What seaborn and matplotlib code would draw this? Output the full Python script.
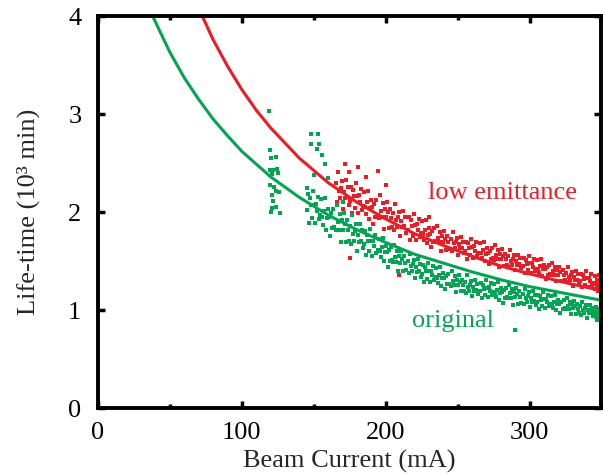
import pandas as pd
import seaborn as sns
import matplotlib.pyplot as plt
from matplotlib.ticker import MultipleLocator

# fitted life-time curves
green_curve_x = [38, 50, 60, 70, 80, 90, 100, 120, 140, 160, 180, 200, 220, 240, 260, 280, 300, 325, 350]
green_curve_y = [4.00, 3.63, 3.37, 3.15, 2.95, 2.78, 2.62, 2.36, 2.15, 1.97, 1.82, 1.69, 1.57, 1.48, 1.39, 1.31, 1.24, 1.17, 1.10]
red_curve_x = [72.5, 80, 90, 100, 110, 120, 140, 160, 180, 200, 220, 240, 260, 280, 300, 325, 350]
red_curve_y = [4.00, 3.76, 3.49, 3.25, 3.04, 2.86, 2.55, 2.30, 2.10, 1.93, 1.78, 1.66, 1.55, 1.45, 1.37, 1.28, 1.20]

# measured points, low emittance optics
red_points = [
    (165.2, 2.30), (165.9, 2.10), (166.6, 2.41), (167.3, 2.22), (168.0, 2.14), (168.7, 2.25), (169.4, 2.32),
    (170.1, 2.03), (170.8, 2.21), (171.5, 2.14), (172.2, 2.33), (172.9, 2.15), (173.6, 2.26), (174.3, 2.07),
    (175.2, 2.11), (175.9, 2.26), (176.6, 1.99), (177.3, 2.23), (178.0, 2.16), (178.7, 2.04), (179.4, 2.30),
    (180.1, 2.16), (180.8, 1.99), (181.5, 2.17), (182.2, 2.10), (182.9, 2.24), (183.6, 2.02), (184.3, 2.06),
    (185.2, 2.21), (185.9, 2.05), (186.6, 1.98), (187.3, 2.10), (188.0, 2.22), (188.7, 1.93), (189.4, 2.04),
    (190.1, 2.12), (190.8, 2.05), (191.5, 1.88), (192.2, 2.08), (192.9, 1.95), (193.6, 2.12), (194.3, 1.97),
    (195.2, 1.94), (195.9, 2.17), (196.6, 2.01), (197.3, 1.95), (198.0, 2.09), (198.7, 1.83), (199.4, 2.03),
    (200.1, 1.95), (200.8, 2.10), (201.5, 2.00), (202.2, 1.84), (202.9, 2.03), (203.6, 1.94), (204.3, 1.85),
    (205.2, 1.99), (205.9, 1.82), (206.6, 2.08), (207.3, 1.92), (208.0, 1.85), (208.7, 1.95), (209.4, 2.00),
    (210.1, 1.76), (210.8, 1.91), (211.5, 1.85), (212.2, 2.01), (212.9, 1.86), (213.6, 1.95), (214.3, 1.79),
    (215.2, 1.82), (215.9, 1.95), (216.6, 1.72), (217.3, 1.92), (218.0, 1.86), (218.7, 1.76), (219.4, 1.98),
    (220.1, 1.87), (220.8, 1.72), (221.5, 1.88), (222.2, 1.82), (222.9, 1.93), (223.6, 1.75), (224.3, 1.79),
    (225.2, 1.91), (225.9, 1.78), (226.6, 1.72), (227.3, 1.82), (228.0, 1.92), (228.7, 1.68), (229.4, 1.77),
    (230.1, 1.84), (230.8, 1.78), (231.5, 1.64), (232.2, 1.81), (232.9, 1.70), (233.6, 1.84), (234.3, 1.71),
    (235.2, 1.69), (235.9, 1.86), (236.6, 1.74), (237.3, 1.69), (238.0, 1.80), (238.7, 1.60), (239.4, 1.76),
    (240.1, 1.69), (240.8, 1.81), (241.5, 1.73), (242.2, 1.61), (242.9, 1.76), (243.6, 1.69), (244.3, 1.62),
    (245.2, 1.73), (245.9, 1.60), (246.6, 1.80), (247.3, 1.68), (248.0, 1.63), (248.7, 1.70), (249.4, 1.74),
    (250.1, 1.56), (250.8, 1.67), (251.5, 1.63), (252.2, 1.75), (252.9, 1.63), (253.6, 1.70), (254.3, 1.58),
    (255.2, 1.60), (255.9, 1.70), (256.6, 1.52), (257.3, 1.68), (258.0, 1.63), (258.7, 1.56), (259.4, 1.73),
    (260.1, 1.64), (260.8, 1.53), (261.5, 1.65), (262.2, 1.60), (262.9, 1.70), (263.6, 1.55), (264.3, 1.58),
    (265.2, 1.68), (265.9, 1.58), (266.6, 1.53), (267.3, 1.61), (268.0, 1.69), (268.7, 1.50), (269.4, 1.57),
    (270.1, 1.63), (270.8, 1.58), (271.5, 1.47), (272.2, 1.60), (272.9, 1.52), (273.6, 1.63), (274.3, 1.53),
    (275.2, 1.51), (275.9, 1.66), (276.6, 1.56), (277.3, 1.52), (278.0, 1.61), (278.7, 1.44), (279.4, 1.57),
    (280.1, 1.52), (280.8, 1.62), (281.5, 1.55), (282.2, 1.45), (282.9, 1.57), (283.6, 1.52), (284.3, 1.46),
    (285.2, 1.55), (285.9, 1.44), (286.6, 1.61), (287.3, 1.50), (288.0, 1.46), (288.7, 1.52), (289.4, 1.56),
    (290.1, 1.41), (290.8, 1.50), (291.5, 1.46), (292.2, 1.56), (292.9, 1.47), (293.6, 1.53), (294.3, 1.43),
    (295.2, 1.45), (295.9, 1.53), (296.6, 1.38), (297.3, 1.51), (298.0, 1.47), (298.7, 1.41), (299.4, 1.55),
    (300.1, 1.48), (300.8, 1.38), (301.5, 1.48), (302.2, 1.44), (302.9, 1.52), (303.6, 1.40), (304.3, 1.42),
    (305.2, 1.51), (305.9, 1.42), (306.6, 1.38), (307.3, 1.45), (308.0, 1.52), (308.7, 1.35), (309.4, 1.42),
    (310.1, 1.46), (310.8, 1.42), (311.5, 1.32), (312.2, 1.44), (312.9, 1.36), (313.6, 1.46), (314.3, 1.37),
    (315.2, 1.36), (315.9, 1.48), (316.6, 1.40), (317.3, 1.36), (318.0, 1.44), (318.7, 1.30), (319.4, 1.41),
    (320.1, 1.36), (320.8, 1.44), (321.5, 1.39), (322.2, 1.30), (322.9, 1.41), (323.6, 1.36), (324.3, 1.31),
    (325.2, 1.38), (325.9, 1.29), (326.6, 1.44), (327.3, 1.34), (328.0, 1.31), (328.7, 1.36), (329.4, 1.39),
    (330.1, 1.25), (330.8, 1.34), (331.5, 1.31), (332.2, 1.40), (332.9, 1.31), (333.6, 1.37), (334.3, 1.27),
    (335.2, 1.30), (335.9, 1.37), (336.6, 1.24), (337.3, 1.36), (338.0, 1.32), (338.7, 1.26), (339.4, 1.40),
    (340.1, 1.33), (340.8, 1.24), (341.5, 1.33), (342.2, 1.30), (342.9, 1.37), (343.6, 1.26), (344.3, 1.28),
    (345.2, 1.35), (345.9, 1.27), (346.6, 1.23), (347.3, 1.29), (348.0, 1.36), (348.7, 1.21), (349.4, 1.27),
    (345.6, 1.22), (346.9, 1.31), (348.3, 1.25), (349.7, 1.20), (347.8, 1.19),
    (172.0, 2.49), (174.3, 2.41), (181.0, 2.46), (194.5, 2.42), (186.0, 2.36), (200.0, 2.28),
    (230.0, 1.95), (175.4, 1.53), (209.0, 1.36),
]

# measured points, original optics
green_points = [
    (145.2, 2.02), (145.9, 2.18), (146.6, 1.89), (147.3, 2.14), (148.0, 2.07), (148.7, 1.94), (149.4, 2.22),
    (150.1, 2.07), (150.8, 1.89), (151.5, 2.08), (152.2, 2.01), (152.9, 2.15), (153.6, 1.93), (154.3, 1.97),
    (155.2, 2.13), (155.9, 1.95), (156.6, 1.87), (157.3, 2.01), (158.0, 2.14), (158.7, 1.82), (159.4, 1.94),
    (160.1, 2.03), (160.8, 1.95), (161.5, 1.76), (162.2, 1.99), (162.9, 1.84), (163.6, 2.03), (164.3, 1.85),
    (165.2, 1.82), (165.9, 2.07), (166.6, 1.90), (167.3, 1.82), (168.0, 1.98), (168.7, 1.69), (169.4, 1.92),
    (170.1, 1.82), (170.8, 1.99), (171.5, 1.88), (172.2, 1.70), (172.9, 1.92), (173.6, 1.82), (174.3, 1.71),
    (175.2, 1.86), (175.9, 1.67), (176.6, 1.97), (177.3, 1.78), (178.0, 1.71), (178.7, 1.81), (179.4, 1.88),
    (180.1, 1.60), (180.8, 1.77), (181.5, 1.70), (182.2, 1.88), (182.9, 1.71), (183.6, 1.82), (184.3, 1.63),
    (185.2, 1.67), (185.9, 1.81), (186.6, 1.56), (187.3, 1.77), (188.0, 1.71), (188.7, 1.60), (189.4, 1.83),
    (190.1, 1.71), (190.8, 1.55), (191.5, 1.71), (192.2, 1.65), (192.9, 1.77), (193.6, 1.58), (194.3, 1.61),
    (195.2, 1.73), (195.9, 1.60), (196.6, 1.54), (197.3, 1.64), (198.0, 1.74), (198.7, 1.50), (199.4, 1.59),
    (200.1, 1.65), (200.8, 1.59), (201.5, 1.44), (202.2, 1.61), (202.9, 1.50), (203.6, 1.64), (204.3, 1.51),
    (205.2, 1.49), (205.9, 1.66), (206.6, 1.54), (207.3, 1.49), (208.0, 1.60), (208.7, 1.40), (209.4, 1.55),
    (210.1, 1.48), (210.8, 1.60), (211.5, 1.52), (212.2, 1.40), (212.9, 1.55), (213.6, 1.48), (214.3, 1.41),
    (215.2, 1.50), (215.9, 1.38), (216.6, 1.57), (217.3, 1.45), (218.0, 1.40), (218.7, 1.47), (219.4, 1.51),
    (220.1, 1.33), (220.8, 1.44), (221.5, 1.39), (222.2, 1.52), (222.9, 1.40), (223.6, 1.47), (224.3, 1.34),
    (225.2, 1.37), (225.9, 1.46), (226.6, 1.29), (227.3, 1.44), (228.0, 1.40), (228.7, 1.32), (229.4, 1.48),
    (230.1, 1.40), (230.8, 1.29), (231.5, 1.40), (232.2, 1.36), (232.9, 1.45), (233.6, 1.31), (234.3, 1.34),
    (235.2, 1.43), (235.9, 1.33), (236.6, 1.28), (237.3, 1.36), (238.0, 1.44), (238.7, 1.25), (239.4, 1.33),
    (240.1, 1.38), (240.8, 1.33), (241.5, 1.22), (242.2, 1.35), (242.9, 1.27), (243.6, 1.37), (244.3, 1.27),
    (245.2, 1.25), (245.9, 1.40), (246.6, 1.30), (247.3, 1.26), (248.0, 1.35), (248.7, 1.18), (249.4, 1.31),
    (250.1, 1.26), (250.8, 1.36), (251.5, 1.29), (252.2, 1.19), (252.9, 1.31), (253.6, 1.26), (254.3, 1.20),
    (255.2, 1.29), (255.9, 1.17), (256.6, 1.36), (257.3, 1.24), (258.0, 1.20), (258.7, 1.26), (259.4, 1.30),
    (260.1, 1.14), (260.8, 1.24), (261.5, 1.20), (262.2, 1.31), (262.9, 1.21), (263.6, 1.27), (264.3, 1.16),
    (265.2, 1.19), (265.9, 1.28), (266.6, 1.12), (267.3, 1.26), (268.0, 1.22), (268.7, 1.15), (269.4, 1.31),
    (270.1, 1.23), (270.8, 1.13), (271.5, 1.24), (272.2, 1.20), (272.9, 1.28), (273.6, 1.15), (274.3, 1.18),
    (275.2, 1.27), (275.9, 1.17), (276.6, 1.13), (277.3, 1.21), (278.0, 1.29), (278.7, 1.10), (279.4, 1.17),
    (280.1, 1.23), (280.8, 1.18), (281.5, 1.07), (282.2, 1.21), (282.9, 1.12), (283.6, 1.23), (284.3, 1.13),
    (285.2, 1.12), (285.9, 1.26), (286.6, 1.17), (287.3, 1.12), (288.0, 1.22), (288.7, 1.05), (289.4, 1.18),
    (290.1, 1.13), (290.8, 1.23), (291.5, 1.16), (292.2, 1.06), (292.9, 1.19), (293.6, 1.13), (294.3, 1.07),
    (295.2, 1.16), (295.9, 1.06), (296.6, 1.22), (297.3, 1.12), (298.0, 1.08), (298.7, 1.14), (299.4, 1.18),
    (300.1, 1.03), (300.8, 1.12), (301.5, 1.08), (302.2, 1.19), (302.9, 1.09), (303.6, 1.15), (304.3, 1.05),
    (305.2, 1.08), (305.9, 1.15), (306.6, 1.01), (307.3, 1.14), (308.0, 1.10), (308.7, 1.04), (309.4, 1.18),
    (310.1, 1.11), (310.8, 1.02), (311.5, 1.11), (312.2, 1.08), (312.9, 1.15), (313.6, 1.04), (314.3, 1.06),
    (315.2, 1.14), (315.9, 1.06), (316.6, 1.02), (317.3, 1.08), (318.0, 1.15), (318.7, 1.00), (319.4, 1.06),
    (320.1, 1.10), (320.8, 1.06), (321.5, 0.97), (322.2, 1.08), (322.9, 1.01), (323.6, 1.10), (324.3, 1.02),
    (325.2, 1.01), (325.9, 1.12), (326.6, 1.04), (327.3, 1.01), (328.0, 1.08), (328.7, 0.96), (329.4, 1.06),
    (330.1, 1.02), (330.8, 1.09), (331.5, 1.04), (332.2, 0.96), (332.9, 1.06), (333.6, 1.01), (334.3, 0.97),
    (335.2, 1.04), (335.9, 0.95), (336.6, 1.08), (337.3, 1.00), (338.0, 0.97), (338.7, 1.02), (339.4, 1.05),
    (340.1, 0.92), (340.8, 1.00), (341.5, 0.97), (342.2, 1.05), (342.9, 0.98), (343.6, 1.02), (344.3, 0.94),
    (345.2, 0.96), (345.9, 1.03), (346.6, 0.90), (347.3, 1.01), (348.0, 0.98), (348.7, 0.93), (349.4, 1.05),
    (345.7, 0.99), (347.0, 0.95), (348.4, 1.00), (349.7, 0.96), (346.3, 0.93),
    # sparse points above the main group and the small group near 120 mA
    (148.2, 2.80), (153.0, 2.80), (148.2, 2.69), (153.7, 2.70), (152.4, 2.64), (155.6, 2.58),
    (157.5, 2.49), (160.0, 2.35), (145.0, 2.25), (150.0, 2.38), (170.0, 2.10), (290.0, 0.80),
    (119.0, 3.03), (119.4, 2.63), (120.0, 2.55), (123.6, 2.56), (119.4, 2.43), (121.7, 2.43),
    (124.7, 2.44), (121.2, 2.39), (125.4, 2.40), (119.4, 2.28), (122.4, 2.26), (123.6, 2.22),
    (125.9, 2.21), (121.2, 2.17), (122.0, 2.11), (120.8, 2.04), (123.6, 2.05), (120.5, 2.00),
    (126.6, 1.99),
]

red = '#ED1C24'
green = '#00A651'

sns.set_theme(style='ticks')
plt.rcParams['font.family'] = ['Liberation Serif', 'DejaVu Serif']

fig = plt.figure(figsize=(6.03, 4.74), dpi=100)
ax = fig.add_axes([0.1625, 0.139, 0.835, 0.827])

red_df = pd.DataFrame(red_points, columns=['current', 'lifetime'])
green_df = pd.DataFrame(green_points, columns=['current', 'lifetime'])
sns.scatterplot(data=red_df, x='current', y='lifetime', color=red, marker='s', s=5, linewidth=0, ax=ax)
sns.scatterplot(data=green_df, x='current', y='lifetime', color=green, marker='s', s=5, linewidth=0, ax=ax)

sns.lineplot(x=green_curve_x, y=green_curve_y, color=green, linewidth=2.2, ax=ax)
sns.lineplot(x=red_curve_x, y=red_curve_y, color=red, linewidth=2.2, ax=ax)

ax.text(281.5, 2.19, 'low emittance', color=red, fontsize=19, ha='center', va='center')
ax.text(247, 0.89, 'original', color=green, fontsize=19, ha='center', va='center')

ax.set_xlim(0, 350)
ax.set_ylim(0, 4)
ax.xaxis.set_major_locator(MultipleLocator(100))
ax.xaxis.set_minor_locator(MultipleLocator(50))
ax.yaxis.set_major_locator(MultipleLocator(1))
ax.tick_params(which='both', direction='in', top=True, right=True, width=2.5, colors='black', labelsize=19)
ax.tick_params(which='major', length=5)
ax.tick_params(which='minor', length=3)
ax.tick_params(axis='x', pad=10)
ax.tick_params(axis='y', pad=12)
for side in ax.spines.values():
    side.set_linewidth(2.8)
    side.set_color('black')

ax.set_xlabel('Beam Current (mA)', fontsize=19, labelpad=4)
ax.set_ylabel('Life-time (10³ min)', fontsize=19, labelpad=20)

fig.savefig('out.png', dpi=100)
